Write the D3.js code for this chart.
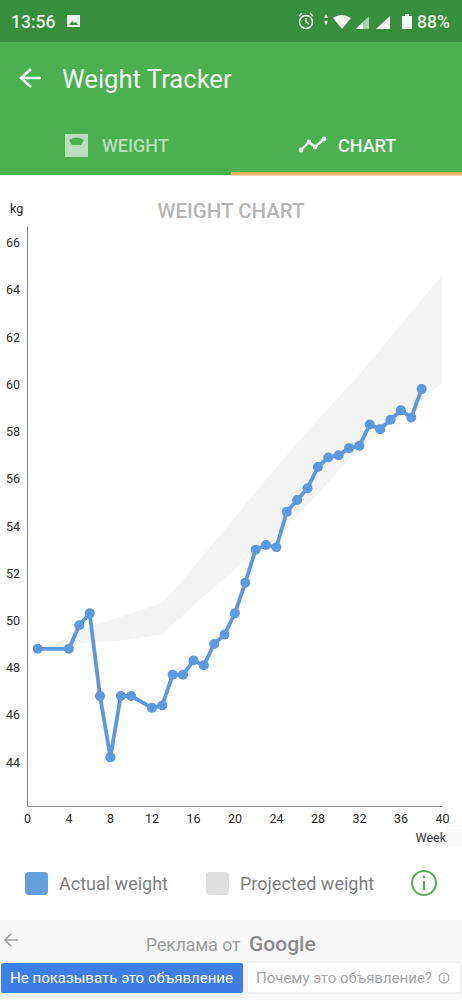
<!DOCTYPE html>
<html>
<head>
<meta charset="utf-8">
<script src="https://cdn.jsdelivr.net/npm/d3@7"></script>
<style>
  html, body { margin: 0; padding: 0; background: #fff; }
  svg { display: block; font-family: Roboto, sans-serif; }
</style>
</head>
<body>
<div id="my_dataviz"></div>
<script>
// chart values
var weeks = [1, 4, 5, 6, 7, 8, 9, 10, 12, 13, 14, 15, 16, 17, 18, 19, 20, 21, 22, 23, 24, 25, 26, 27, 28, 29, 30, 31, 32, 33, 34, 35, 36, 37, 38];
var actualWeight = [48.8, 48.8, 49.8, 50.3, 46.8, 44.2, 46.8, 46.8, 46.3, 46.4, 47.7, 47.7, 48.3, 48.1, 49, 49.4, 50.3, 51.6, 53, 53.2, 53.1, 54.6, 55.1, 55.6, 56.5, 56.9, 57, 57.3, 57.4, 58.3, 58.1, 58.5, 58.9, 58.6, 59.8];
var bandWeeks = [1, 2.5, 5.8, 9, 13, 14.5, 17, 19.6, 22.8, 25, 27.3, 32, 38.2, 40];
var bandUpper = [48.8, 48.95, 49.7, 50.15, 50.74, 51.45, 52.77, 54.15, 55.85, 56.98, 58.15, 60.4, 63.66, 64.6];
var bandLower = [48.8, 48.8, 49.05, 49.15, 49.4, 50, 51, 52, 53.25, 54.1, 55, 57.3, 59.4, 60.06];
var yTicks = [44, 46, 48, 50, 52, 54, 56, 58, 60, 62, 64, 66];
var xTicks = [0, 4, 8, 12, 16, 20, 24, 28, 32, 36, 40];
var legendLabels = ["Actual weight", "Projected weight"];

var blue = "#5c99df", band = "#f4f4f4";

var svg = d3.select("#my_dataviz").append("svg")
  .attr("width", 462)
  .attr("height", 1000);

// app chrome
svg.append("rect").attr("width", 462).attr("height", 42).attr("fill", "#388e3c");
svg.append("rect").attr("y", 42).attr("width", 462).attr("height", 133).attr("fill", "#4caf50");
svg.append("rect").attr("x", 231).attr("y", 172).attr("width", 231).attr("height", 3.5).attr("fill", "#f7b36b");

function label(x, y, txt, size, fill, weight) {
  return svg.append("text")
    .attr("x", x).attr("y", y)
    .attr("font-size", size + "px")
    .attr("font-weight", weight || 400)
    .attr("fill", fill)
    .text(txt);
}

label(11, 28, "13:56", 17.5, "#e8f2e8", 500);
label(417, 28, "88%", 17.5, "#e8f2e8", 500);
// status bar icons
svg.append("path").attr("d", "M67 15h13v12h-13z").attr("fill", "#eaf3ea");
svg.append("path").attr("d", "M69 25l3-4 2 2 2-1 2 3z").attr("fill", "#388e3c");
svg.append("circle").attr("cx", 306).attr("cy", 22).attr("r", 6.5).attr("fill", "none").attr("stroke", "#e8f2e8").attr("stroke-width", 1.5);
svg.append("path").attr("d", "M306 18v4l3 2M299 16l3-3M313 16l-3-3").attr("fill", "none").attr("stroke", "#e8f2e8").attr("stroke-width", 1.3);
svg.append("path").attr("d", "M324 18l2-4 2 4zM324 21l2 4 2-4z").attr("fill", "#e8f2e8");
svg.append("path").attr("d", "M333 18q8-6 18 0l-9 11z").attr("fill", "#f1f7f1");
svg.append("path").attr("d", "M356 29l13-13v13z").attr("fill", "#a5d3a7");
svg.append("path").attr("d", "M356 29l7-7v7z").attr("fill", "#f1f7f1");
svg.append("path").attr("d", "M376 29l14-13v13z").attr("fill", "#f1f7f1");
svg.append("path").attr("d", "M402 16h3v-2h4v2h3v13h-10z").attr("fill", "#f1f7f1");

svg.append("path").attr("d", "M41 78H22M31 69l-10 9 10 9").attr("fill", "none").attr("stroke", "#f4f9f4").attr("stroke-width", 2.6);
label(62, 88, "Weight Tracker", 25.6, "#f1f8f1");

// tabs
svg.append("rect").attr("x", 65).attr("y", 134).attr("width", 23).attr("height", 23).attr("fill", "#b9dfba");
svg.append("path").attr("d", "M69 140q7-5 15 0l-3 5h-9z").attr("fill", "#4caf50");
label(102, 152, "WEIGHT", 18, "#b9dfba", 500);
svg.append("path").attr("d", "M301 150l8-8 6 5 9-8").attr("fill", "none").attr("stroke", "#f4f9f4").attr("stroke-width", 2.4);
svg.selectAll(".dot-icon").data([[301, 150], [309, 142], [315, 147], [324, 139]]).enter().append("circle")
  .attr("cx", function(d) { return d[0]; }).attr("cy", function(d) { return d[1]; }).attr("r", 2.4).attr("fill", "#f4f9f4");
label(338, 152, "CHART", 18, "#eef7ee", 500);

// chart
var x = d3.scaleLinear().domain([0, 40]).range([27, 442]);
var y = d3.scaleLinear().domain([42.14, 66.71]).range([806, 226]);

label(231, 218, "WEIGHT CHART", 20.5, "#b6b6b6", 500).attr("text-anchor", "middle");
label(10, 213, "kg", 12.5, "#222");
label(446, 842, "Week", 12.5, "#333").attr("text-anchor", "end");
svg.append("rect").attr("x", 447).attr("y", 825).attr("width", 15).attr("height", 21).attr("fill", "#fafafa");

var bandRows = bandWeeks.map(function(w, i) { return {w: w, hi: bandUpper[i], lo: bandLower[i]}; });
svg.append("path")
  .datum(bandRows)
  .attr("fill", band)
  .attr("d", d3.area()
    .x(function(d) { return x(d.w); })
    .y0(function(d) { return y(d.lo); })
    .y1(function(d) { return y(d.hi); }));

var xAxis = svg.append("g")
  .attr("transform", "translate(0,806)")
  .call(d3.axisBottom(x).tickValues(xTicks).tickSize(0).tickPadding(8).tickFormat(d3.format("d")));
var yAxis = svg.append("g")
  .attr("transform", "translate(27,0)")
  .call(d3.axisLeft(y).tickValues(yTicks).tickSize(0).tickPadding(7).tickFormat(d3.format("d")));
[xAxis, yAxis].forEach(function(a) {
  a.attr("font-family", "Roboto, sans-serif").attr("font-size", 12.5);
  a.selectAll("text").attr("fill", "#2a2a2a");
  a.select(".domain").attr("stroke", "#8c8c8c").attr("stroke-width", 1.2);
});

var rows = weeks.map(function(w, i) { return {w: w, v: actualWeight[i]}; });
svg.append("path")
  .datum(rows)
  .attr("fill", "none")
  .attr("stroke", blue)
  .attr("stroke-width", 3.8)
  .attr("d", d3.line()
    .x(function(d) { return x(d.w) + 0.4; })
    .y(function(d) { return y(d.v); }));
svg.selectAll(".pt").data(rows).enter().append("circle")
  .attr("class", "pt")
  .attr("cx", function(d) { return x(d.w) + 0.4; })
  .attr("cy", function(d) { return y(d.v); })
  .attr("r", 5)
  .attr("fill", blue);

// legend
var legendX = [25, 206], legendColors = ["#659fe0", "#dfdfdf"];
legendLabels.forEach(function(t, i) {
  svg.append("rect").attr("x", legendX[i]).attr("y", 872).attr("width", 23).attr("height", 23).attr("rx", 4).attr("fill", legendColors[i]);
  label(legendX[i] + 34, 890, t, 18, "#7f7f7f");
});
svg.append("circle").attr("cx", 424).attr("cy", 883).attr("r", 12).attr("fill", "none").attr("stroke", "#5ca75f").attr("stroke-width", 2);
svg.append("path").attr("d", "M424 881v9").attr("stroke", "#5ca75f").attr("stroke-width", 2.2);
svg.append("circle").attr("cx", 424).attr("cy", 877).attr("r", 1.4).attr("fill", "#5ca75f");

// ad strip
svg.append("rect").attr("y", 920).attr("width", 462).attr("height", 80).attr("fill", "#f8f8f8");
svg.append("path").attr("d", "M18 940H6M11 934l-6 6 6 6").attr("fill", "none").attr("stroke", "#a0a0a0").attr("stroke-width", 1.5);
label(146, 951, "Реклама от", 17.5, "#9a9a9a");
label(249, 951, "Google", 21, "#8a8a8a", 500);
svg.append("rect").attr("x", 1).attr("y", 963).attr("width", 242).attr("height", 30).attr("rx", 2).attr("fill", "#3d7fe6");
label(10, 983, "Не показывать это объявление", 15.05, "#fff");
svg.append("rect").attr("x", 247).attr("y", 962).attr("width", 214).attr("height", 31).attr("rx", 2).attr("fill", "#fff").attr("stroke", "#e6e6e6");
label(256, 983, "Почему это объявление?", 15, "#a6a6a6");
svg.append("circle").attr("cx", 444).attr("cy", 978).attr("r", 5).attr("fill", "none").attr("stroke", "#a6a6a6").attr("stroke-width", 1.2);
svg.append("path").attr("d", "M444 977v4M444 975v1").attr("stroke", "#a6a6a6").attr("stroke-width", 1.2);
</script>
</body>
</html>
